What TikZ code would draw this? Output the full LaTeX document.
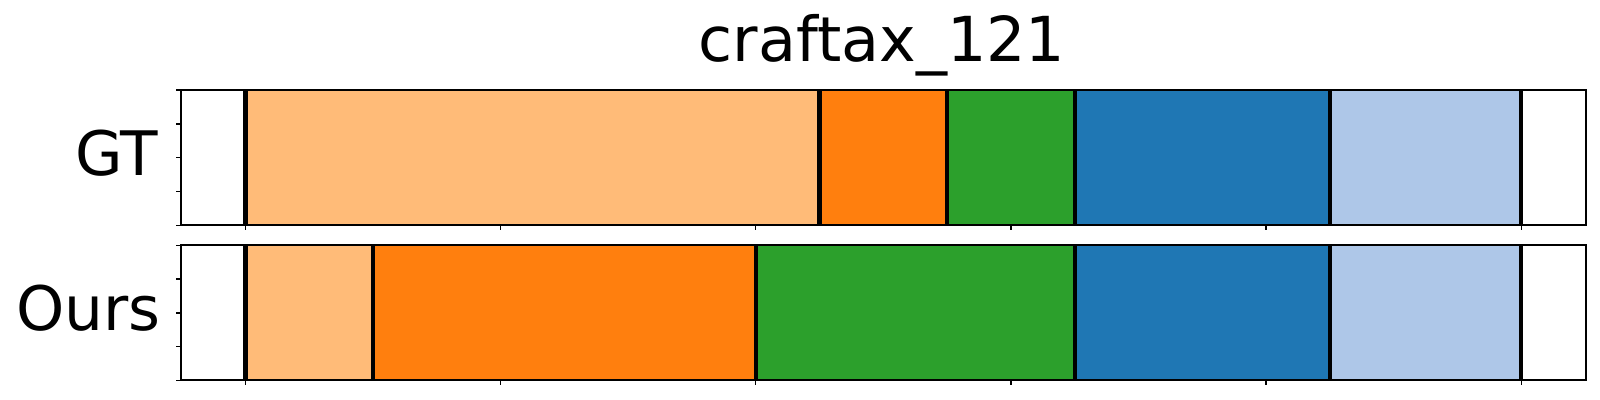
\documentclass[tikz,border=0pt]{standalone}
\usepackage{fontspec}
\setmainfont{DejaVu Sans}
\definecolor{tabpeach}{HTML}{FFBB78}
\definecolor{taborange}{HTML}{FF7F0E}
\definecolor{tabgreen}{HTML}{2CA02C}
\definecolor{tabblue}{HTML}{1F77B4}
\definecolor{tablightblue}{HTML}{AEC7E8}
\tikzset{
  sepline/.style={line width=3.2pt, black},
  axframe/.style={line width=1.4pt, black},
  ytickmark/.style={line width=1.1pt, black},
  xtickmark/.style={line width=0.9pt, black},
  rowlabel/.style={font=\fontsize{46}{50}\selectfont, inner sep=0pt, anchor=base east},
  titlelabel/.style={font=\fontsize{46.5}{50}\selectfont, inner sep=0pt, anchor=base}
}
\begin{document}
\begin{tikzpicture}[x=0.75pt,y=-0.75pt]
\useasboundingbox (0,0) rectangle (1600,400);
% title
\node[titlelabel] (title) at (882,61.7) {craftax\_121};
% row labels
\node[rowlabel] (gt) at (158.5,175) {GT};
\node[rowlabel] (ours) at (161,330) {Ours};
% GT segments
\foreach \a/\b/\c in {0/112.5/tabpeach,112.5/137.5/taborange,137.5/162.5/tabgreen,162.5/212.5/tabblue,212.5/250/tablightblue}{
  \pgfmathsetmacro{\xa}{245.6+5.102*\a}
  \pgfmathsetmacro{\xb}{245.6+5.102*\b}
  \fill[\c] (\xa,90) rectangle (\xb,225.3);
}
\foreach \a in {0,112.5,137.5,162.5,212.5,250}{
  \pgfmathsetmacro{\xa}{245.6+5.102*\a}
  \draw[sepline] (\xa,90) -- (\xa,225.3);
}
% Ours segments
\foreach \a/\b/\c in {0/25/tabpeach,25/100/taborange,100/162.5/tabgreen,162.5/212.5/tabblue,212.5/250/tablightblue}{
  \pgfmathsetmacro{\xa}{245.6+5.102*\a}
  \pgfmathsetmacro{\xb}{245.6+5.102*\b}
  \fill[\c] (\xa,245.3) rectangle (\xb,380.3);
}
\foreach \a in {0,25,100,162.5,212.5,250}{
  \pgfmathsetmacro{\xa}{245.6+5.102*\a}
  \draw[sepline] (\xa,245.3) -- (\xa,380.3);
}
% frames
\draw[axframe] (181.3,90) rectangle (1585.7,225.3);
\draw[axframe] (181.3,245.3) rectangle (1585.7,380.3);
% y ticks
\foreach \t in {0,0.25,0.5,0.75,1}{
  \pgfmathsetmacro{\ya}{90+135.3*\t}
  \pgfmathsetmacro{\yb}{245.3+135*\t}
  \draw[ytickmark] (176.3,\ya) -- (181.3,\ya);
  \draw[ytickmark] (176.3,\yb) -- (181.3,\yb);
}
% x ticks
\foreach \d in {0,50,...,250}{
  \pgfmathsetmacro{\xa}{245.6+5.102*\d}
  \draw[xtickmark] (\xa,225.3) -- (\xa,230.3);
  \draw[xtickmark] (\xa,380.3) -- (\xa,385.3);
}
\end{tikzpicture}
\end{document}
